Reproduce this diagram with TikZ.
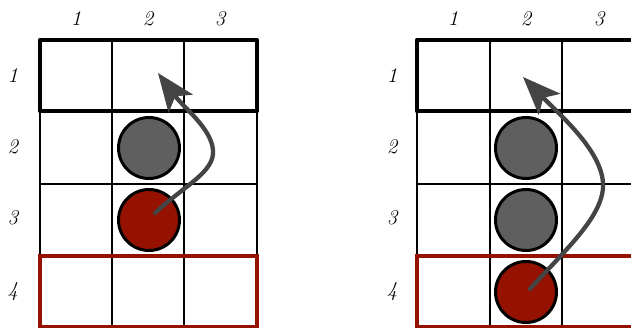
\documentclass[tikz,border=0pt]{standalone}
\usetikzlibrary{arrows.meta}
\definecolor{disc}{RGB}{95,95,95}
\definecolor{redd}{RGB}{150,18,0}
\definecolor{arr}{RGB}{68,68,68}
\tikzset{
  gridline/.style={line width=1.4pt, black},
  toprow/.style={line width=4.5pt, black, line join=round},
  botrow/.style={line width=3.5pt, redd},
  graydisc/.style={circle, draw=black, line width=3pt, fill=disc, minimum size=61pt, inner sep=0pt},
  reddisc/.style={circle, draw=black, line width=3pt, fill=redd, minimum size=61pt, inner sep=0pt},
  lab/.style={font=\fontsize{21}{21}\selectfont\itshape, inner sep=0pt},
  movearrow/.style={line width=4.3pt, arr, line cap=round, -{Stealth[length=38pt, width=30pt, inset=9pt]}}
}
\begin{document}
\begin{tikzpicture}[x=1pt, y=-1pt]
\useasboundingbox (0,0) rectangle (631,328);
\clip (0,0) rectangle (631,328);
% ---------- left board ----------
\foreach \x in {40,112,184,257} \draw[gridline] (\x,40) -- (\x,330);
\draw[gridline] (40,184) -- (257,184);
\draw[botrow] (40,256) rectangle (257,327);
\draw[toprow] (40,40) rectangle (257,111);
\node[lab] (lc1) at (76,19) {1};
\node[lab] (lc2) at (148,19) {2};
\node[lab] (lc3) at (220,19) {3};
\node[lab] (lr1) at (13,76) {1};
\node[lab] (lr2) at (13,147) {2};
\node[lab] (lr3) at (13,218) {3};
\node[lab] (lr4) at (13,292) {4};
\node[graydisc] (lg) at (149,148) {};
\node[reddisc] (lr) at (149,220) {};
\coordinate (ls) at (155,213);
\coordinate (lt) at (158,73);
\draw[movearrow] (ls) .. controls (185,185) and (215,172) .. (213,150) .. controls (211,128) and (184,108) .. (lt);
% ---------- right board ----------
\foreach \x in {417,490,562,635} \draw[gridline] (\x,40) -- (\x,330);
\draw[gridline] (417,184) -- (640,184);
\draw[botrow] (417,256) rectangle (700,327);
\draw[toprow] (417,40) rectangle (700,111);
\node[lab] (rc1) at (453,19) {1};
\node[lab] (rc2) at (526,19) {2};
\node[lab] (rc3) at (599,19) {3};
\node[lab] (rr1) at (392,76) {1};
\node[lab] (rr2) at (392,147) {2};
\node[lab] (rr3) at (392,218) {3};
\node[lab] (rr4) at (392,292) {4};
\node[graydisc] (rg1) at (526,148) {};
\node[graydisc] (rg2) at (526,220) {};
\node[reddisc] (rr) at (526,292) {};
\coordinate (rs) at (530,289);
\coordinate (rt) at (523,77);
\draw[movearrow] (rs) .. controls (565,250) and (605,215) .. (603,183) .. controls (601,150) and (560,115) .. (rt);
\end{tikzpicture}
\end{document}
